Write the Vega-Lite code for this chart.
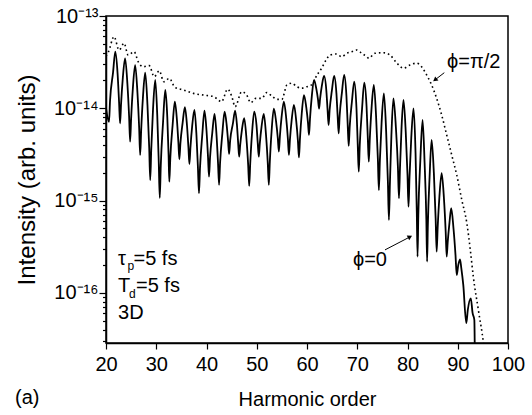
{
  "$schema": "https://vega.github.io/schema/vega-lite/v6.json",
  "width": 402,
  "height": 327,
  "autosize": {"type": "none"},
  "padding": {"left": 106, "top": 16, "right": 24, "bottom": 72},
  "background": "white",
  "datasets": {
    "phi0": [
      {"h":20.0,"I":1.01e-14},{"h":20.6,"I":7.11e-15},{"h":20.8,"I":1.20e-14},{"h":21.4,"I":2.43e-14},{"h":21.85,"I":4.10e-14},
      {"h":22.3,"I":2.40e-14},{"h":22.6,"I":1.17e-14},{"h":22.8,"I":6.87e-15},{"h":23.0,"I":1.12e-14},{"h":23.35,"I":2.14e-14},
      {"h":23.8,"I":3.48e-14},{"h":24.25,"I":1.87e-14},{"h":24.6,"I":8.11e-15},{"h":24.8,"I":4.35e-15},{"h":25.0,"I":7.71e-15},
      {"h":25.35,"I":1.66e-14},{"h":25.8,"I":2.94e-14},{"h":26.25,"I":1.50e-14},{"h":26.6,"I":6.11e-15},{"h":26.8,"I":3.12e-15},
      {"h":27.0,"I":5.78e-15},{"h":27.35,"I":1.31e-14},{"h":27.8,"I":2.43e-14},{"h":28.25,"I":1.09e-14},{"h":28.6,"I":3.73e-15},
      {"h":28.8,"I":1.67e-15},{"h":29.0,"I":3.53e-15},{"h":29.35,"I":9.59e-15},{"h":29.8,"I":2.03e-14},{"h":30.2,"I":8.38e-15},
      {"h":30.5,"I":2.58e-15},{"h":30.7,"I":1.07e-15},{"h":30.9,"I":2.39e-15},{"h":31.35,"I":7.03e-15},{"h":31.8,"I":1.58e-14},
      {"h":32.2,"I":7.94e-15},{"h":32.45,"I":3.18e-15},{"h":32.6,"I":1.60e-15},{"h":32.8,"I":2.92e-15},{"h":33.25,"I":6.49e-15},
      {"h":33.7,"I":1.18e-14},{"h":34.1,"I":7.66e-15},{"h":34.4,"I":4.31e-15},{"h":34.6,"I":2.80e-15},{"h":34.8,"I":4.13e-15},
      {"h":35.25,"I":6.95e-15},{"h":35.7,"I":1.03e-14},{"h":36.1,"I":6.71e-15},{"h":36.4,"I":3.81e-15},{"h":36.6,"I":2.49e-15},
      {"h":36.8,"I":3.73e-15},{"h":37.15,"I":6.40e-15},{"h":37.6,"I":9.59e-15},{"h":38.0,"I":5.14e-15},{"h":38.3,"I":2.24e-15},
      {"h":38.5,"I":1.20e-15},{"h":38.7,"I":2.22e-15},{"h":39.15,"I":5.07e-15},{"h":39.6,"I":9.42e-15},{"h":40.0,"I":5.74e-15},
      {"h":40.3,"I":2.97e-15},{"h":40.5,"I":1.82e-15},{"h":40.7,"I":2.90e-15},{"h":41.15,"I":5.42e-15},{"h":41.6,"I":8.67e-15},
      {"h":42.0,"I":5.09e-15},{"h":42.3,"I":2.51e-15},{"h":42.5,"I":1.48e-15},{"h":42.7,"I":2.55e-15},{"h":43.15,"I":5.31e-15},
      {"h":43.6,"I":9.18e-15},{"h":44.0,"I":6.70e-15},{"h":44.3,"I":4.39e-15},{"h":44.5,"I":3.20e-15},{"h":44.7,"I":4.43e-15},
      {"h":45.25,"I":6.81e-15},{"h":45.7,"I":9.42e-15},{"h":46.05,"I":6.68e-15},{"h":46.3,"I":4.22e-15},{"h":46.5,"I":2.99e-15},
      {"h":46.7,"I":3.99e-15},{"h":47.05,"I":5.85e-15},{"h":47.5,"I":7.80e-15},{"h":47.95,"I":4.70e-15},{"h":48.3,"I":2.39e-15},
      {"h":48.5,"I":1.44e-15},{"h":48.7,"I":2.51e-15},{"h":49.05,"I":5.26e-15},{"h":49.5,"I":9.18e-15},{"h":49.95,"I":6.56e-15},
      {"h":50.2,"I":4.19e-15},{"h":50.4,"I":2.99e-15},{"h":50.6,"I":4.12e-15},{"h":50.95,"I":6.30e-15},{"h":51.4,"I":8.67e-15},
      {"h":51.85,"I":5.09e-15},{"h":52.2,"I":2.51e-15},{"h":52.4,"I":1.48e-15},{"h":52.6,"I":2.61e-15},{"h":52.95,"I":5.60e-15},
      {"h":53.4,"I":9.91e-15},{"h":53.85,"I":7.18e-15},{"h":54.2,"I":4.68e-15},{"h":54.4,"I":3.39e-15},{"h":54.6,"I":4.93e-15},
      {"h":54.95,"I":8.11e-15},{"h":55.4,"I":1.18e-14},{"h":55.85,"I":7.93e-15},{"h":56.2,"I":4.65e-15},{"h":56.4,"I":3.12e-15},
      {"h":56.6,"I":4.54e-15},{"h":56.95,"I":7.46e-15},{"h":57.4,"I":1.09e-14},{"h":57.85,"I":7.35e-15},{"h":58.2,"I":4.36e-15},
      {"h":58.4,"I":2.94e-15},{"h":58.6,"I":4.69e-15},{"h":58.95,"I":8.73e-15},{"h":59.4,"I":1.39e-14},{"h":59.85,"I":1.03e-14},
      {"h":60.2,"I":6.93e-15},{"h":60.4,"I":5.14e-15},{"h":60.6,"I":7.76e-15},{"h":60.95,"I":1.34e-14},{"h":61.4,"I":2.03e-14},
      {"h":61.85,"I":1.63e-14},{"h":62.2,"I":1.23e-14},{"h":62.4,"I":9.89e-15},{"h":62.6,"I":1.26e-14},{"h":62.95,"I":1.75e-14},
      {"h":63.4,"I":2.24e-14},{"h":63.85,"I":1.55e-14},{"h":64.1,"I":9.51e-15},{"h":64.3,"I":6.59e-15},{"h":64.5,"I":9.51e-15},
      {"h":64.95,"I":1.55e-14},{"h":65.4,"I":2.24e-14},{"h":65.85,"I":1.46e-14},{"h":66.1,"I":8.22e-15},{"h":66.3,"I":5.36e-15},
      {"h":66.5,"I":8.30e-15},{"h":66.95,"I":1.48e-14},{"h":67.4,"I":2.30e-14},{"h":67.85,"I":1.35e-14},{"h":68.1,"I":6.65e-15},
      {"h":68.3,"I":3.91e-15},{"h":68.5,"I":6.32e-15},{"h":68.95,"I":1.20e-14},{"h":69.4,"I":1.94e-14},{"h":69.85,"I":9.89e-15},
      {"h":70.1,"I":4.03e-15},{"h":70.3,"I":2.06e-15},{"h":70.5,"I":4.00e-15},{"h":70.95,"I":9.73e-15},{"h":71.4,"I":1.89e-14},
      {"h":71.85,"I":1.05e-14},{"h":72.1,"I":4.76e-15},{"h":72.3,"I":2.64e-15},{"h":72.5,"I":4.68e-15},{"h":72.85,"I":1.01e-14},
      {"h":73.3,"I":1.79e-14},{"h":73.75,"I":8.15e-15},{"h":74.1,"I":2.86e-15},{"h":74.3,"I":1.30e-15},{"h":74.5,"I":2.69e-15},
      {"h":74.85,"I":7.05e-15},{"h":75.3,"I":1.45e-14},{"h":75.75,"I":5.62e-15},{"h":76.1,"I":1.59e-15},{"h":76.3,"I":6.17e-16},
      {"h":76.5,"I":1.53e-15},{"h":76.8,"I":5.16e-15},{"h":77.2,"I":1.28e-14},{"h":77.7,"I":6.07e-15},{"h":78.1,"I":2.24e-15},
      {"h":78.3,"I":1.06e-15},{"h":78.5,"I":2.21e-15},{"h":78.8,"I":5.89e-15},{"h":79.2,"I":1.23e-14},{"h":79.65,"I":5.53e-15},
      {"h":80.0,"I":1.91e-15},{"h":80.2,"I":8.59e-16},{"h":80.4,"I":1.79e-15},{"h":80.75,"I":4.79e-15},{"h":81.2,"I":1.00e-14},
      {"h":81.6,"I":3.30e-15},{"h":81.85,"I":7.48e-16},{"h":82.0,"I":2.47e-16},{"h":82.15,"I":6.85e-16},{"h":82.55,"I":2.69e-15},
      {"h":83.0,"I":7.46e-15},{"h":83.4,"I":2.58e-15},{"h":83.75,"I":6.28e-16},{"h":83.9,"I":2.18e-16},{"h":84.05,"I":5.42e-16},
      {"h":84.4,"I":1.82e-15},{"h":84.8,"I":4.54e-15},{"h":85.25,"I":1.97e-15},{"h":85.6,"I":6.44e-16},{"h":85.8,"I":2.79e-16},
      {"h":86.0,"I":5.02e-16},{"h":86.35,"I":1.10e-15},{"h":86.8,"I":1.98e-15},{"h":87.25,"I":1.06e-15},{"h":87.6,"I":4.60e-16},
      {"h":87.8,"I":2.47e-16},{"h":88.0,"I":3.54e-16},{"h":88.35,"I":5.74e-16},{"h":88.7,"I":8.26e-16},{"h":89.15,"I":5.01e-16},
      {"h":89.55,"I":2.58e-16},{"h":89.8,"I":1.56e-16},{"h":90.1,"I":2.00e-16},{"h":90.45,"I":2.31e-16},{"h":90.7,"I":1.86e-16},
      {"h":91.1,"I":1.22e-16},{"h":91.7,"I":4.69e-17},{"h":92.0,"I":6.53e-17},{"h":92.6,"I":8.73e-17},{"h":92.95,"I":6.05e-17},
      {"h":93.3,"I":5.1e-17},{"h":93.45,"I":1.0e-17}
    ],
    "phi90": [
      {"h":20.0,"I":3.69e-14},{"h":20.5,"I":4.10e-14},{"h":21.6,"I":5.97e-14},{"h":22.6,"I":4.28e-14},{"h":23.6,"I":5.06e-14},
      {"h":24.4,"I":3.78e-14},{"h":25.6,"I":4.10e-14},{"h":26.4,"I":3.20e-14},{"h":27.4,"I":2.82e-14},{"h":28.6,"I":2.90e-14},
      {"h":29.6,"I":2.20e-14},{"h":30.6,"I":2.55e-14},{"h":31.5,"I":1.94e-14},{"h":32.6,"I":2.11e-14},{"h":33.7,"I":1.69e-14},
      {"h":35.4,"I":1.58e-14},{"h":37.4,"I":1.45e-14},{"h":39.4,"I":1.39e-14},{"h":41.4,"I":1.34e-14},{"h":43.0,"I":1.18e-14},
      {"h":44.2,"I":1.61e-14},{"h":45.0,"I":1.36e-14},{"h":45.7,"I":1.04e-14},{"h":47.0,"I":1.51e-14},{"h":48.0,"I":1.39e-14},
      {"h":48.8,"I":1.15e-14},{"h":49.8,"I":1.28e-14},{"h":51.0,"I":1.28e-14},{"h":52.0,"I":1.48e-14},{"h":53.0,"I":1.36e-14},
      {"h":54.0,"I":1.25e-14},{"h":55.0,"I":1.25e-14},{"h":56.0,"I":1.79e-14},{"h":57.0,"I":1.87e-14},{"h":58.0,"I":1.71e-14},
      {"h":58.9,"I":1.65e-14},{"h":59.9,"I":1.71e-14},{"h":60.9,"I":1.79e-14},{"h":62.0,"I":2.30e-14},{"h":62.9,"I":2.71e-14},
      {"h":63.8,"I":3.34e-14},{"h":64.6,"I":3.78e-14},{"h":65.8,"I":3.87e-14},{"h":66.9,"I":3.62e-14},{"h":67.9,"I":3.94e-14},
      {"h":68.9,"I":4.10e-14},{"h":69.9,"I":4.28e-14},{"h":70.9,"I":3.94e-14},{"h":71.9,"I":3.62e-14},{"h":72.3,"I":3.48e-14},
      {"h":73.5,"I":3.94e-14},{"h":75.2,"I":4.00e-14},{"h":76.5,"I":3.78e-14},{"h":77.9,"I":3.08e-14},{"h":79.2,"I":2.71e-14},
      {"h":80.5,"I":2.95e-14},{"h":81.8,"I":3.08e-14},{"h":82.8,"I":2.82e-14},{"h":83.8,"I":2.30e-14},{"h":84.8,"I":1.79e-14},
      {"h":85.8,"I":1.28e-14},{"h":86.8,"I":8.45e-15},{"h":87.8,"I":5.14e-15},{"h":88.8,"I":3.12e-15},{"h":89.8,"I":1.89e-15},
      {"h":90.8,"I":1.02e-15},{"h":91.8,"I":5.71e-16},{"h":92.5,"I":2.92e-16},{"h":93.1,"I":1.49e-16},{"h":94.1,"I":6.53e-17},
      {"h":95.1,"I":2.87e-17},{"h":95.5,"I":1.8e-17}
    ],
    "labels": [
      {"h":87.86,"I":2.73e-14,"t":"ϕ=π/2"},
      {"h":69.15,"I":1.95e-16,"t":"ϕ=0"},
      {"h":22.39,"I":2.00e-16,"t":"τ"},
      {"h":25.47,"I":2.00e-16,"t":"=5 fs"},
      {"h":22.39,"I":1.03e-16,"t":"T"},
      {"h":25.97,"I":1.03e-16,"t":"=5 fs"},
      {"h":22.39,"I":5.21e-17,"t":"3D"},
      {"h":1.89,"I":6.25e-18,"t":"(a)"}
    ],
    "subs": [
      {"h":24.28,"I":1.77e-16,"t":"p"},
      {"h":24.58,"I":8.81e-17,"t":"d"}
    ],
    "arrows": [
      {"h":87.32,"I":2.43e-14,"h2":85.47,"I2":2.03e-14},
      {"h":75.52,"I":2.92e-16,"h2":80.5,"I2":4.04e-16}
    ]
  },
  "encoding": {
    "x": {
      "field": "h", "type": "quantitative",
      "scale": {"domain": [20, 100], "nice": false, "zero": false},
      "axis": {"values": [20,30,40,50,60,70,80,90,100], "tickSize": 6, "labelPadding": 5, "labelFlush": false, "title": "Harmonic order", "titlePadding": 15}
    },
    "y": {
      "field": "I", "type": "quantitative",
      "scale": {"type": "log", "domain": [2.86e-17, 1e-13], "nice": false},
      "axis": {
        "orient": "left",
        "values": [3e-17,4e-17,5e-17,6e-17,7e-17,8e-17,9e-17,1e-16,2e-16,3e-16,4e-16,5e-16,6e-16,7e-16,8e-16,9e-16,1e-15,2e-15,3e-15,4e-15,5e-15,6e-15,7e-15,8e-15,9e-15,1e-14,2e-14,3e-14,4e-14,5e-14,6e-14,7e-14,8e-14,9e-14,1e-13],
        "tickSize": {"condition": {"test": "abs(log(datum.value)/LN10 - round(log(datum.value)/LN10)) < 0.001", "value": 7}, "value": 3.5},
        "labelPadding": 1,
        "labelExpr": "abs(datum.value/1e-13 - 1) < 0.01 ? '10⁻¹³' : abs(datum.value/1e-14 - 1) < 0.01 ? '10⁻¹⁴' : abs(datum.value/1e-15 - 1) < 0.01 ? '10⁻¹⁵' : abs(datum.value/1e-16 - 1) < 0.01 ? '10⁻¹⁶' : ''",
        "title": "Intensity (arb. units)", "titleFontSize": 24, "titlePadding": 14
      }
    }
  },
  "layer": [
    {
      "data": {"name": "phi0"},
      "mark": {"type": "line", "color": "black", "strokeWidth": 1.8, "interpolate": "monotone", "clip": true}
    },
    {
      "data": {"name": "phi90"},
      "mark": {"type": "line", "color": "black", "strokeWidth": 1.6, "strokeDash": [1.6, 3], "interpolate": "monotone", "clip": true}
    },
    {
      "data": {"name": "arrows"},
      "mark": {"type": "rule", "color": "black", "strokeWidth": 1},
      "encoding": {
        "x2": {"field": "h2"},
        "y2": {"field": "I2"}
      }
    },
    {
      "data": {"values": [{"h": 85.47, "I": 2.03e-14}]},
      "mark": {"type": "point", "shape": "triangle-up", "filled": true, "color": "black", "size": 28, "angle": 232, "opacity": 1}
    },
    {
      "data": {"values": [{"h": 80.5, "I": 4.04e-16}]},
      "mark": {"type": "point", "shape": "triangle-up", "filled": true, "color": "black", "size": 28, "angle": 62.5, "opacity": 1}
    },
    {
      "data": {"name": "labels"},
      "mark": {"type": "text", "align": "left", "baseline": "alphabetic", "fontSize": 20, "font": "Liberation Sans", "color": "black"},
      "encoding": {"text": {"field": "t"}}
    },
    {
      "data": {"name": "subs"},
      "mark": {"type": "text", "align": "left", "baseline": "alphabetic", "fontSize": 12, "font": "Liberation Sans", "color": "black"},
      "encoding": {"text": {"field": "t"}}
    }
  ],
  "config": {
    "view": {"stroke": "black", "strokeWidth": 1.5},
    "axis": {"grid": false, "domainColor": "black", "domainWidth": 1.5, "tickColor": "black", "tickWidth": 1.2,
             "labelColor": "black", "titleColor": "black", "labelFont": "Liberation Sans", "titleFont": "Liberation Sans",
             "labelFontSize": 20, "titleFontSize": 20, "titleFontWeight": "normal"},
    "text": {"font": "Liberation Sans", "fontSize": 20, "color": "black"}
  }
}
